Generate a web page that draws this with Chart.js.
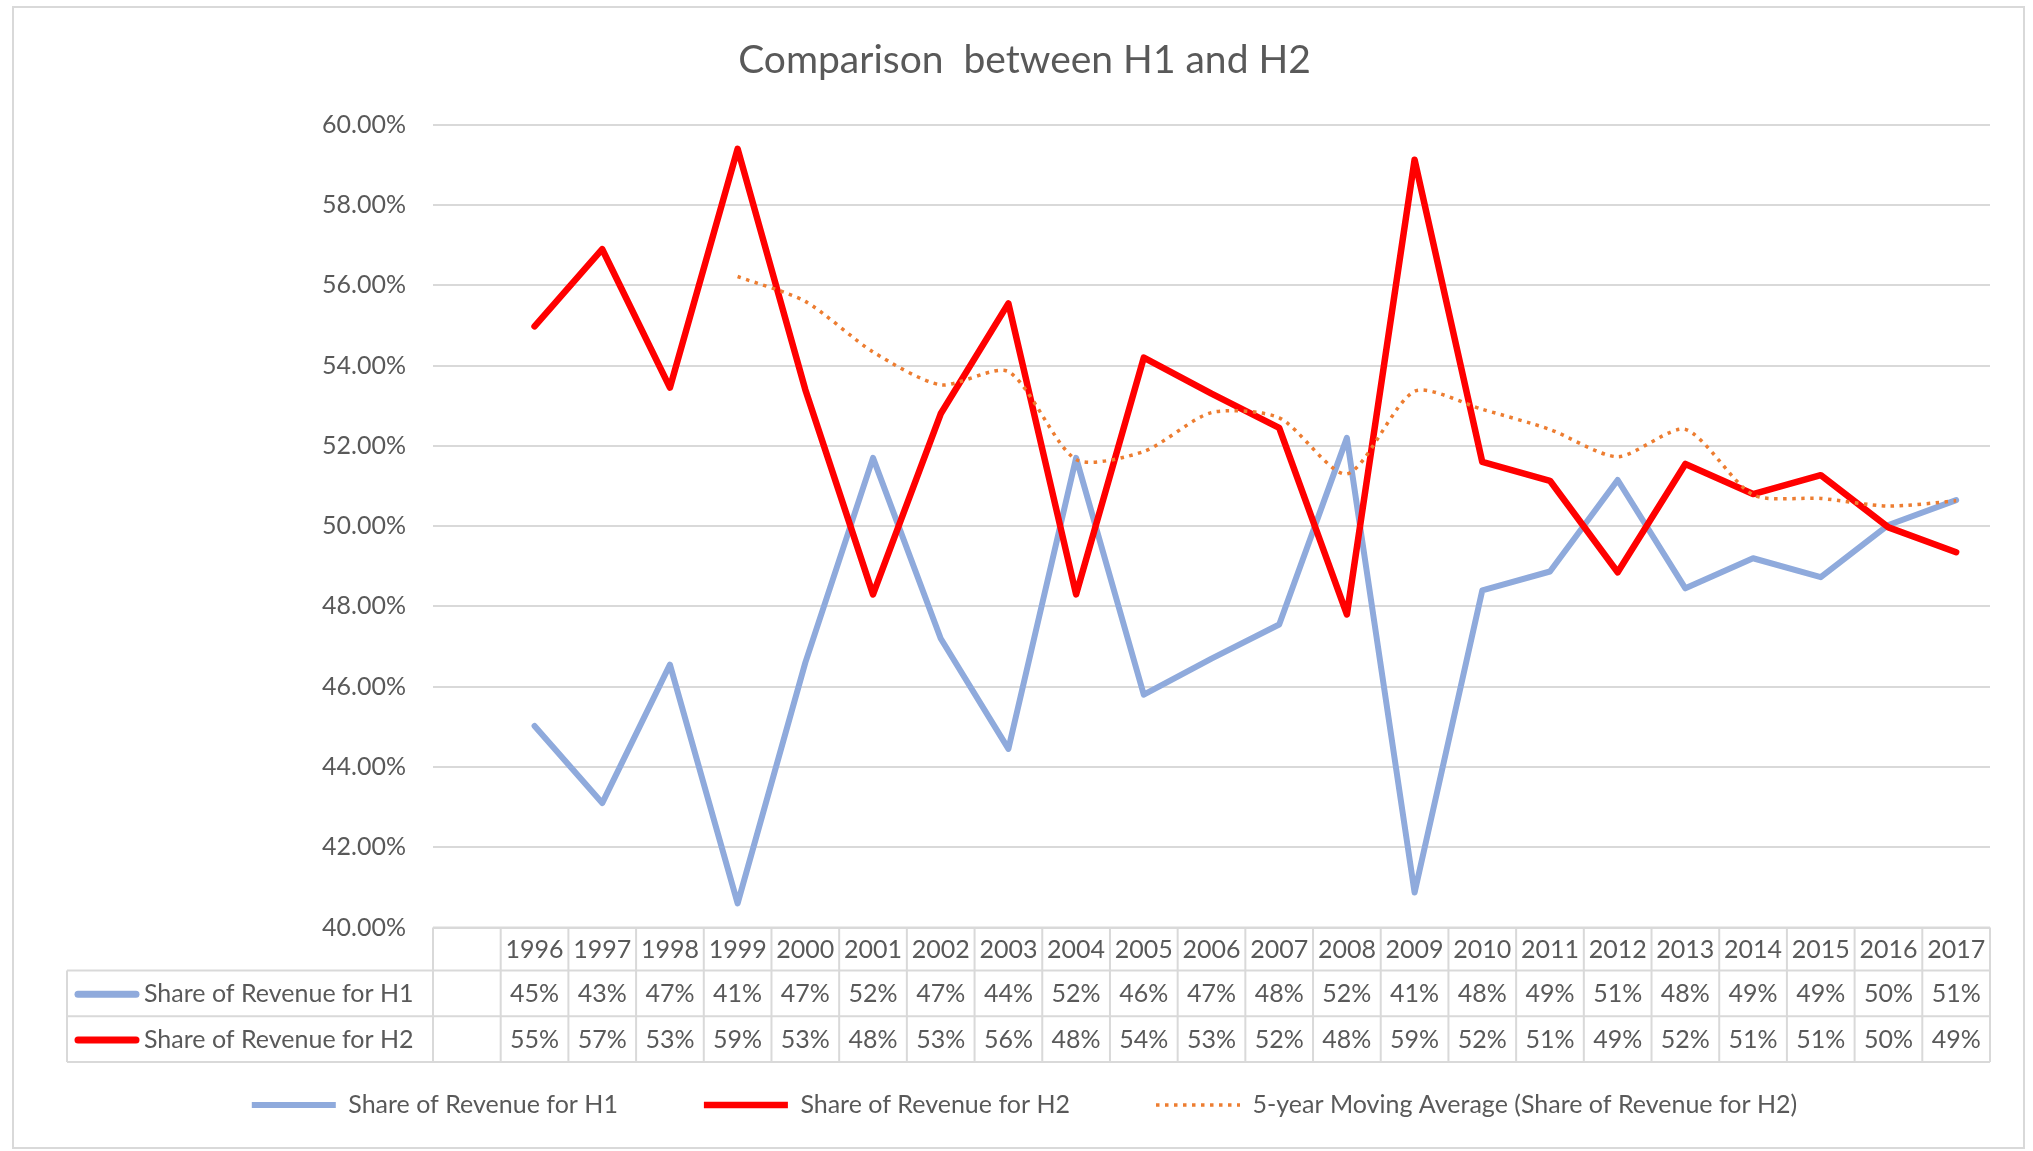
<!DOCTYPE html>
<html>
<head>
<meta charset="utf-8">
<script src="https://cdn.jsdelivr.net/npm/chart.js@4"></script>
<style>
html,body{margin:0;padding:0;background:#fff;}
canvas{display:block;}
</style>
</head>
<body>
<canvas id="c" width="2033" height="1151"></canvas>
<script>
// ---- data ----
const years = ['1996','1997','1998','1999','2000','2001','2002','2003','2004','2005','2006',
               '2007','2008','2009','2010','2011','2012','2013','2014','2015','2016','2017'];
const h1Share = [45.02, 43.10, 46.55, 40.60, 46.60, 51.70, 47.20, 44.45, 51.70, 45.80, 46.70,
                 47.55, 52.20, 40.87, 48.40, 48.87, 51.15, 48.45, 49.20, 48.73, 50.03, 50.65];
const h2Share = [54.98, 56.90, 53.45, 59.40, 53.40, 48.30, 52.80, 55.55, 48.30, 54.20, 53.30,
                 52.45, 47.80, 59.13, 51.60, 51.13, 48.85, 51.55, 50.80, 51.27, 49.97, 49.35];
const h2MovingAvg = [null, null, null, 56.22, 55.60, 54.34, 53.52, 53.85, 51.66, 51.86, 52.83,
                     52.70, 51.30, 53.36, 52.91, 52.41, 51.73, 52.41, 50.78, 50.69, 50.50, 50.63];
const yMin = 40, yMax = 60, yStep = 2;
const chartTitle = 'Comparison  between H1 and H2';
const seriesNames = ['Share of Revenue for H1', 'Share of Revenue for H2',
                     '5-year Moving Average (Share of Revenue for H2)'];

// Excel-style category axis has a leading blank category column
const categories = [''].concat(years);
const pad = (arr) => [null].concat(arr);

const TEXT = '#595959';
const GRID = '#d9d9d9';
const FS = 25;
const LEGEND_PAD = 86;
Chart.defaults.font.family = 'Lato';
Chart.defaults.color = TEXT;

const frame = {
  id: 'frame',
  beforeDraw(chart) {
    const ctx = chart.ctx;
    ctx.save();
    ctx.fillStyle = '#fff';
    ctx.fillRect(0, 0, chart.width, chart.height);
    ctx.strokeStyle = GRID;
    ctx.lineWidth = 2;
    ctx.strokeRect(13, 7, 2011, 1141);
    ctx.restore();
  }
};

const dataTable = {
  id: 'dataTable',
  afterDraw(chart) {
    const ctx = chart.ctx, xs = chart.scales.x, area = chart.chartArea;
    const n = chart.data.labels.length;
    const step = xs.getPixelForValue(1) - xs.getPixelForValue(0);
    const left = xs.getPixelForValue(0) - step / 2;
    const right = xs.getPixelForValue(n - 1) + step / 2;
    const y0 = area.bottom, y1 = y0 + 43, y2 = y1 + 45.7, y3 = y2 + 45.7;
    const labelLeft = 67;
    ctx.save();
    ctx.strokeStyle = GRID;
    ctx.lineWidth = 2;
    ctx.beginPath();
    ctx.moveTo(left, y0); ctx.lineTo(right, y0);
    [y1, y2, y3].forEach(y => { ctx.moveTo(labelLeft, y); ctx.lineTo(right, y); });
    for (let i = 0; i <= n; i++) {
      const x = left + i * step;
      ctx.moveTo(x, y0); ctx.lineTo(x, y3);
    }
    ctx.moveTo(labelLeft, y1); ctx.lineTo(labelLeft, y3);
    ctx.stroke();

    ctx.fillStyle = TEXT;
    ctx.font = FS + 'px Lato';
    ctx.textAlign = 'center';
    ctx.textBaseline = 'middle';
    chart.data.labels.forEach((lab, i) => {
      ctx.fillText(lab, xs.getPixelForValue(i), (y0 + y1) / 2 + 1);
    });
    [0, 1].forEach(k => {
      const ds = chart.data.datasets[k];
      const yc = k === 0 ? (y1 + y2) / 2 + 1 : (y2 + y3) / 2 + 1;
      ctx.textAlign = 'center';
      ds.data.forEach((v, i) => {
        if (v != null) ctx.fillText(v.toFixed(0) + '%', xs.getPixelForValue(i), yc);
      });
      ctx.save();
      ctx.strokeStyle = ds.borderColor;
      ctx.lineWidth = 7;
      ctx.lineCap = 'round';
      ctx.beginPath();
      ctx.moveTo(78, yc); ctx.lineTo(136, yc);
      ctx.stroke();
      ctx.restore();
      ctx.textAlign = 'left';
      ctx.fillText(ds.label, 144, yc);
    });
    ctx.restore();
  }
};

new Chart(document.getElementById('c'), {
  type: 'line',
  data: {
    labels: categories,
    datasets: [
      {
        label: seriesNames[0],
        data: pad(h1Share),
        borderColor: '#8faadc',
        backgroundColor: '#8faadc',
        borderWidth: 6,
        pointRadius: 0,
        tension: 0,
        borderJoinStyle: 'round',
        borderCapStyle: 'round',
        order: 2
      },
      {
        label: seriesNames[1],
        data: pad(h2Share),
        borderColor: '#ff0000',
        backgroundColor: '#ff0000',
        borderWidth: 6.5,
        pointRadius: 0,
        tension: 0,
        borderJoinStyle: 'round',
        borderCapStyle: 'round',
        order: 1
      },
      {
        label: seriesNames[2],
        data: pad(h2MovingAvg),
        borderColor: '#ed7d31',
        backgroundColor: '#ed7d31',
        borderWidth: 3.5,
        borderDash: [3.5, 5.5],
        pointRadius: 0,
        tension: 0.25,
        order: 0
      }
    ]
  },
  options: {
    responsive: false,
    animation: false,
    events: [],
    layout: { padding: { left: 59, right: 43, top: 0, bottom: 23.5 } },
    scales: {
      x: {
        offset: true,
        ticks: { display: false },
        grid: { display: false },
        border: { display: false },
        afterFit(scale) { scale.height = 1105 - LEGEND_PAD - FS / 2 - 927.5; }
      },
      y: {
        min: yMin,
        max: yMax,
        ticks: {
          stepSize: yStep,
          padding: 27,
          color: TEXT,
          font: { family: 'Lato', size: FS },
          callback: (v) => Number(v).toFixed(2) + '%'
        },
        grid: { color: GRID, lineWidth: 2, drawTicks: false },
        border: { display: false },
        afterFit(scale) { scale.width = 374; }
      }
    },
    plugins: {
      title: {
        display: true,
        text: chartTitle,
        color: TEXT,
        font: { family: 'Lato', size: 39, weight: 'normal' },
        padding: { top: 37, bottom: 41 }
      },
      legend: {
        display: true,
        position: 'bottom',
        labels: {
          usePointStyle: true,
          pointStyleWidth: 84,
          padding: LEGEND_PAD,
          color: TEXT,
          font: { family: 'Lato', size: FS },
          generateLabels(chart) {
            return chart.data.datasets.map((ds, i) => ({
              text: ds.label,
              fillStyle: ds.borderColor,
              strokeStyle: ds.borderColor,
              lineWidth: ds.borderWidth,
              lineDash: ds.borderDash || [],
              lineCap: 'butt',
              pointStyle: 'line',
              hidden: false,
              datasetIndex: i,
              fontColor: TEXT
            }));
          }
        }
      },
      tooltip: { enabled: false }
    }
  },
  plugins: [frame, dataTable]
});
</script>
</body>
</html>
